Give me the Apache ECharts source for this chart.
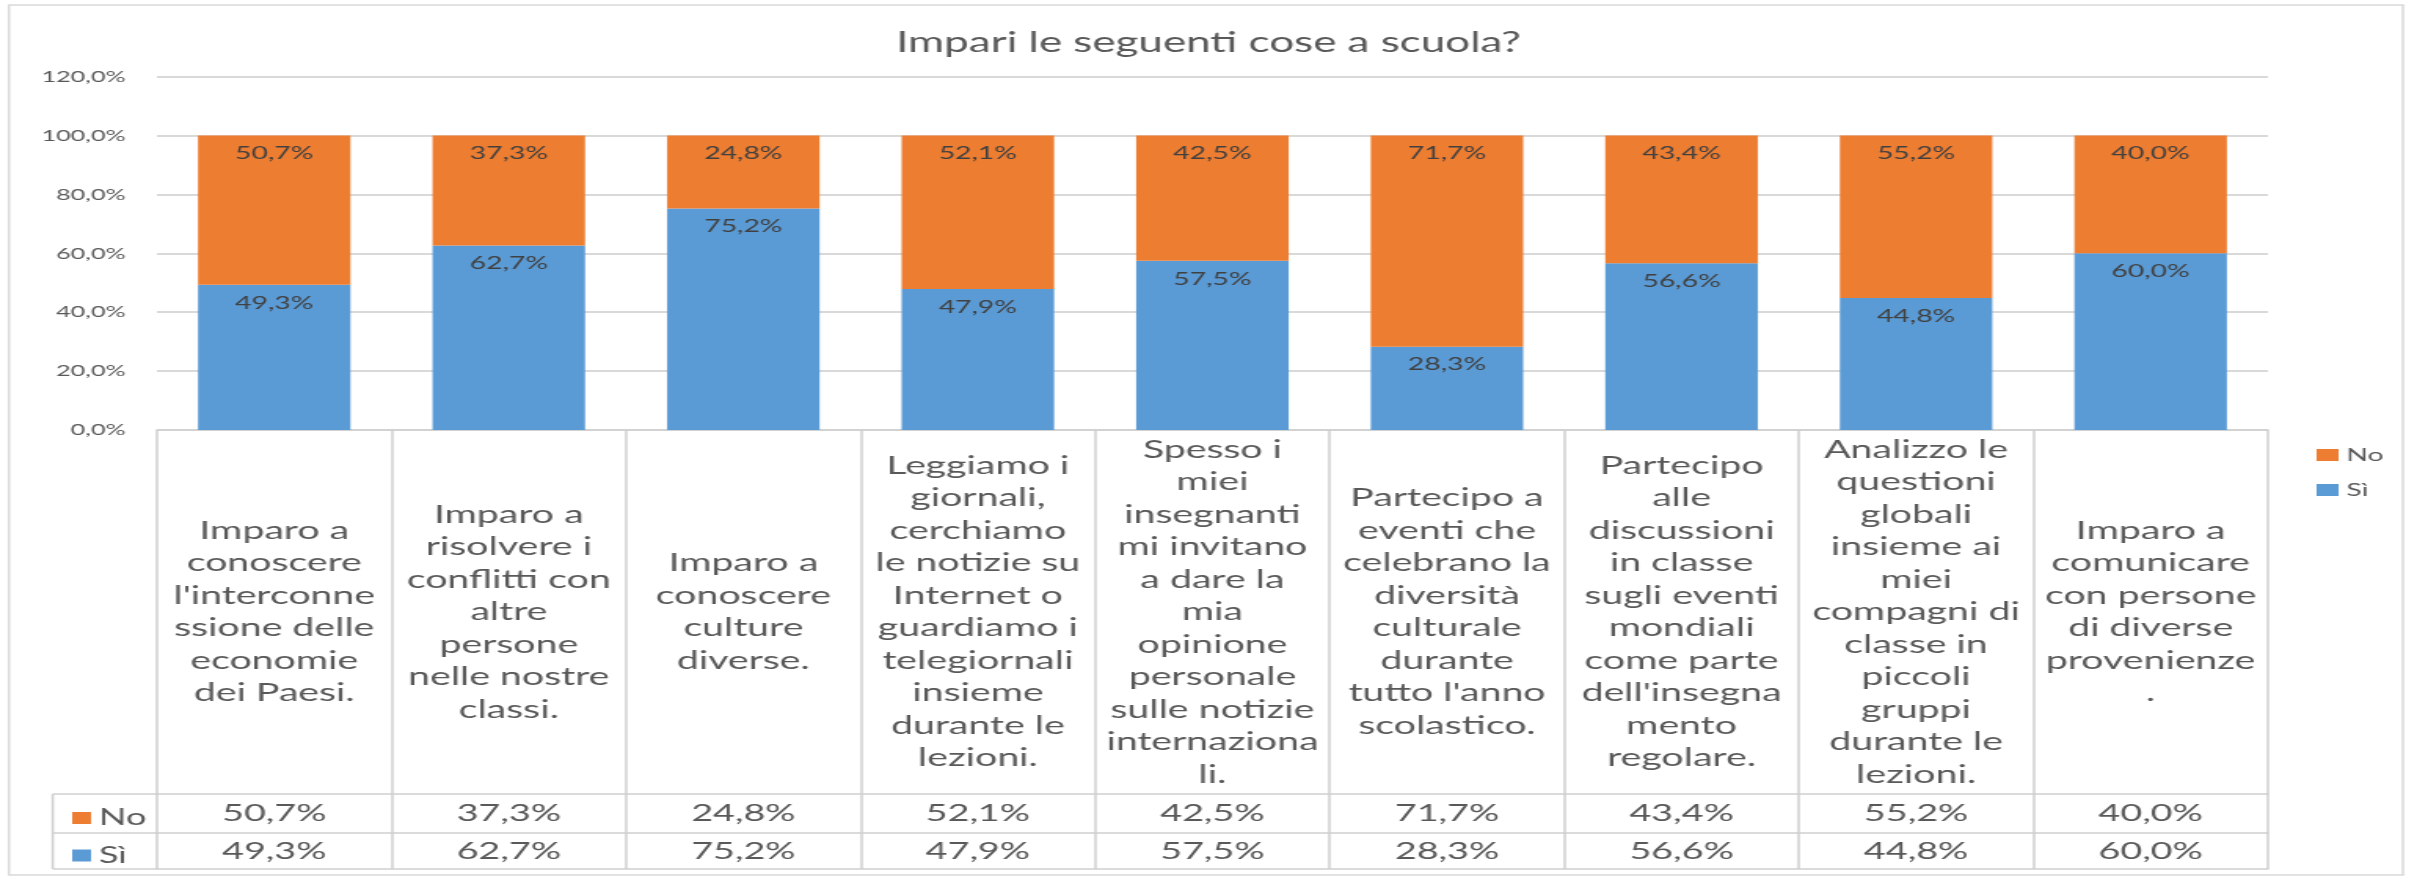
<!DOCTYPE html>
<html>
<head>
<meta charset="utf-8">
<script src="https://cdn.jsdelivr.net/npm/echarts@6/dist/echarts.min.js"></script>
<style>
html,body{margin:0;padding:0;background:#fff;overflow:hidden;}
#chart{width:1540px;height:877px;transform:scaleX(1.56948);transform-origin:0 0;}
</style>
</head>
<body>
<div id="chart"></div>
<script>
const title = 'Impari le seguenti cose a scuola?';
const categories = [
  "Imparo a\nconoscere\nl'interconne\nssione delle\neconomie\ndei Paesi.",
  "Imparo a\nrisolvere i\nconflitti con\naltre\npersone\nnelle nostre\nclassi.",
  "Imparo a\nconoscere\nculture\ndiverse.",
  "Leggiamo i\ngiornali,\ncerchiamo\nle notizie su\nInternet o\nguardiamo i\ntelegiornali\ninsieme\ndurante le\nlezioni.",
  "Spesso i\nmiei\ninsegnanti\nmi invitano\na dare la\nmia\nopinione\npersonale\nsulle notizie\ninternaziona\nli.",
  "Partecipo a\neventi che\ncelebrano la\ndiversità\nculturale\ndurante\ntutto l'anno\nscolastico.",
  "Partecipo\nalle\ndiscussioni\nin classe\nsugli eventi\nmondiali\ncome parte\ndell'insegna\nmento\nregolare.",
  "Analizzo le\nquestioni\nglobali\ninsieme ai\nmiei\ncompagni di\nclasse in\npiccoli\ngruppi\ndurante le\nlezioni.",
  "Imparo a\ncomunicare\ncon persone\ndi diverse\nprovenienze\n."
];
const seriesNames = ['No', 'Sì'];
const siValues = [49.3, 62.7, 75.2, 47.9, 57.5, 28.3, 56.6, 44.8, 60.0];
const noValues = [50.7, 37.3, 24.8, 52.1, 42.5, 71.7, 43.4, 55.2, 40.0];
const yTicks = [0, 20, 40, 60, 80, 100, 120];

const fmt = v => v.toFixed(1).replace('.', ',') + '%';
const FONT = 'Lato, "Open Sans", sans-serif';
const BLUE = '#5B9BD5', ORANGE = '#ED7D31';
const LINE = '#d0d0d0', TXT = '#595959';

const chart = echarts.init(document.getElementById('chart'));
const baseX = {
  type: 'category', data: categories, gridIndex: 0, position: 'bottom',
  axisLine: {show: true, lineStyle: {color: LINE, width: 1.5}},
  axisTick: {show: false}, splitLine: {show: false}
};
chart.setOption({
  backgroundColor: '#fff',
  animation: false,
  textStyle: {fontFamily: FONT},
  title: {
    text: title, left: 'center', top: 21,
    textStyle: {fontFamily: FONT, fontSize: 28, fontWeight: 'normal', color: TXT, lineHeight: 34}
  },
  legend: [
    {
      data: seriesNames, orient: 'vertical', left: 1471, top: 440, itemGap: 15,
      icon: 'rect', itemWidth: 14, itemHeight: 12, selectedMode: false,
      textStyle: {fontFamily: FONT, fontSize: 18, color: TXT, lineHeight: 20}
    },
    {
      data: seriesNames, orient: 'vertical', left: 41, top: 799, itemGap: 9.5,
      icon: 'rect', itemWidth: 12, itemHeight: 12, selectedMode: false,
      textStyle: {fontFamily: FONT, fontSize: 23, color: TXT, lineHeight: 28}
    }
  ],
  grid: {left: 100, right: 95, top: 76.7, bottom: 447, containLabel: false},
  xAxis: [
    Object.assign({}, baseX, {
      axisTick: {show: true, interval: 0, length: 439, alignWithLabel: false, lineStyle: {color: LINE, width: 1.5}},
      axisLabel: {
        interval: 0, hideOverlap: false, margin: 182, verticalAlign: 'middle', align: 'center',
        fontFamily: FONT, fontSize: 25, lineHeight: 32.5, color: TXT
      }
    }),
    Object.assign({}, baseX, {
      offset: 364,
      axisLabel: {
        interval: 0, hideOverlap: false, margin: 19.5, verticalAlign: 'middle',
        fontFamily: FONT, fontSize: 24, color: TXT,
        formatter: (v, i) => fmt(noValues[i])
      }
    }),
    Object.assign({}, baseX, {
      offset: 403,
      axisLabel: {
        interval: 0, hideOverlap: false, margin: 18, verticalAlign: 'middle',
        fontFamily: FONT, fontSize: 24, color: TXT,
        formatter: (v, i) => fmt(siValues[i])
      }
    }),
    Object.assign({}, baseX, {
      offset: 439,
      axisLabel: {show: false}
    })
  ],
  yAxis: {
    type: 'value', min: 0, max: 120, interval: 20,
    axisLine: {show: false}, axisTick: {show: false},
    splitLine: {lineStyle: {color: '#d9d9d9', width: 2}},
    axisLabel: {margin: 20, fontFamily: FONT, fontSize: 16, color: TXT, formatter: v => fmt(v)}
  },
  series: [
    {
      name: 'Sì', type: 'bar', stack: 'tot', data: siValues, barWidth: '65%',
      itemStyle: {color: BLUE},
      label: {show: true, position: 'insideTop', distance: 9, color: '#404040', fontFamily: FONT, fontSize: 18, formatter: p => fmt(p.value)}
    },
    {
      name: 'No', type: 'bar', stack: 'tot', data: noValues, barWidth: '65%',
      itemStyle: {color: ORANGE},
      label: {show: true, position: 'insideTop', distance: 9, color: '#404040', fontFamily: FONT, fontSize: 18, formatter: p => fmt(p.value)}
    }
  ],
  graphic: [
    {type: 'rect', shape: {x: 5.7, y: 5, width: 1525.3, height: 870}, style: {fill: null, stroke: '#d9d9d9', lineWidth: 1.5}, silent: true, z: -1},
    {type: 'line', shape: {x1: 33.6, y1: 794, x2: 100, y2: 794}, style: {stroke: LINE, lineWidth: 1.5}, silent: true},
    {type: 'line', shape: {x1: 33.6, y1: 833, x2: 100, y2: 833}, style: {stroke: LINE, lineWidth: 1.5}, silent: true},
    {type: 'line', shape: {x1: 33.6, y1: 869, x2: 100, y2: 869}, style: {stroke: LINE, lineWidth: 1.5}, silent: true},
    {type: 'line', shape: {x1: 33.6, y1: 794, x2: 33.6, y2: 869}, style: {stroke: LINE, lineWidth: 1.5}, silent: true}
  ]
});
</script>
</body>
</html>
